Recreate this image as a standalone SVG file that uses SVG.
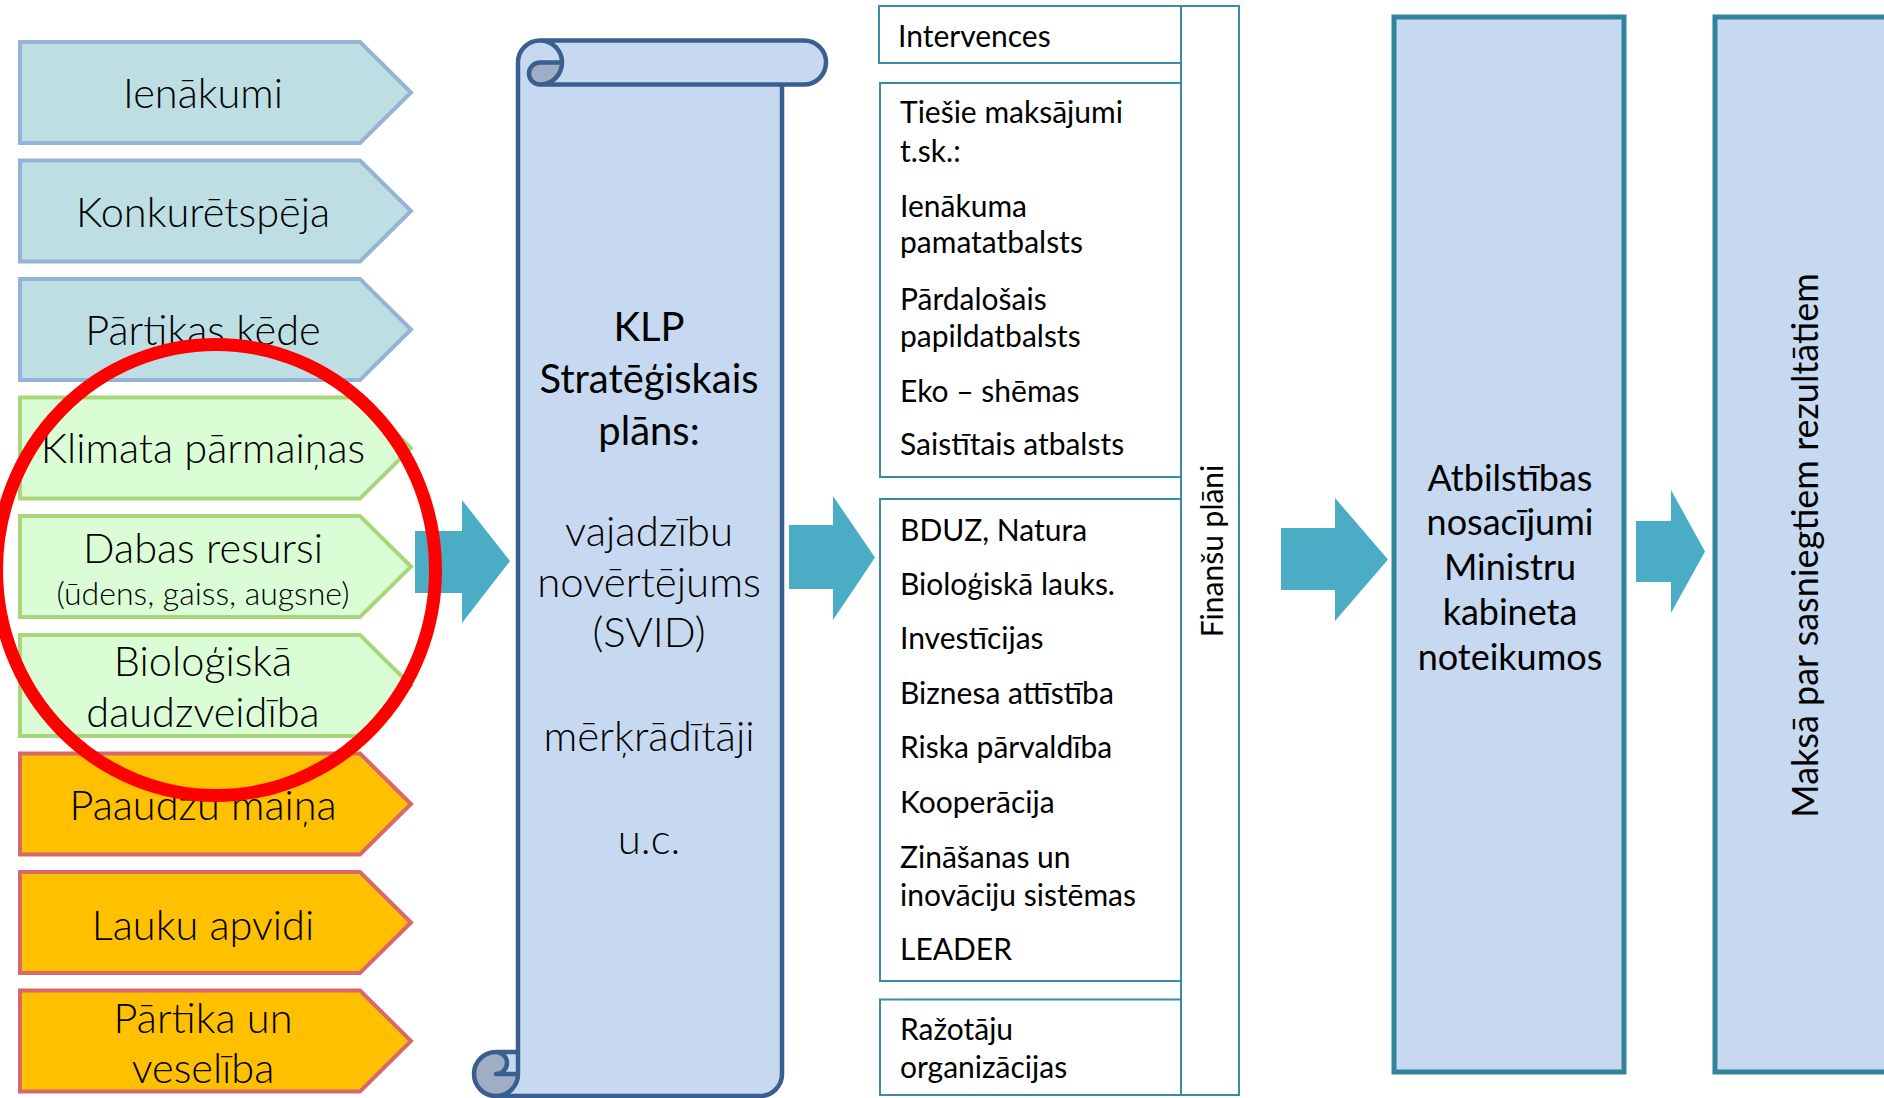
<svg xmlns="http://www.w3.org/2000/svg" width="1884" height="1098" viewBox="0 0 1884 1098">
<style>
text{font-family:Lato,"Open Sans","DejaVu Sans",sans-serif;fill:#000}
.chv{font-size:41.5px;text-anchor:middle;font-weight:300}
.sub{font-size:32px;text-anchor:middle;font-weight:300}
.cb{fill:#BDDFE4;stroke:#95B3D7;stroke-width:4}
.cg{fill:#DAFDD6;stroke:#AAD67B;stroke-width:4}
.co{fill:#FFC000;stroke:#D7696B;stroke-width:4}
.arr{fill:#4BACC6}
.scr{font-size:40px;text-anchor:middle}
.scr.lt{font-weight:300;font-size:42px}
.it{font-size:30px}
.lb{fill:#FFFFFF;stroke:#3A8BA5;stroke-width:2}
.rb{fill:#C6D9F1;stroke:#31849B;stroke-width:5}
.big{font-size:36px;text-anchor:middle}
</style>

<g id="chevron-ienakumi"><path class="cb" d="M20,42 L360,42 L411,92.5 L360,143 L20,143 Z"/><text class="chv" x="203" y="108">Ienākumi</text></g>
<g id="chevron-konkuretspeja"><path class="cb" d="M20,160.5 L360,160.5 L411,211 L360,261.5 L20,261.5 Z"/><text class="chv" x="203" y="227">Konkurētspēja</text></g>
<g id="chevron-partikas-kede"><path class="cb" d="M20,279 L360,279 L411,329.5 L360,380 L20,380 Z"/><text class="chv" x="203" y="345">Pārtikas ķēde</text></g>
<g id="chevron-klimata"><path class="cg" d="M20,397.5 L360,397.5 L411,448 L360,498.5 L20,498.5 Z"/><text class="chv" x="203" y="463">Klimata pārmaiņas</text></g>
<g id="chevron-dabas"><path class="cg" d="M20,516 L360,516 L411,566.5 L360,617 L20,617 Z"/><text class="chv" x="203" y="563">Dabas resursi</text><text class="sub" x="203" y="605">(ūdens, gaiss, augsne)</text></g>
<g id="chevron-bio"><path class="cg" d="M20,635 L360,635 L411,685.5 L360,736 L20,736 Z"/><text class="chv" x="203" y="676">Bioloģiskā</text><text class="chv" x="203" y="727">daudzveidība</text></g>
<g id="chevron-paaudzu"><path class="co" d="M20,753.5 L360,753.5 L411,804 L360,854.5 L20,854.5 Z"/><text class="chv" x="203" y="820">Paaudžu maiņa</text></g>
<g id="chevron-lauku"><path class="co" d="M20,872 L360,872 L411,922.5 L360,973 L20,973 Z"/><text class="chv" x="203" y="940">Lauku apvidi</text></g>
<g id="chevron-partika"><path class="co" d="M20,990.5 L360,990.5 L411,1041 L360,1091.5 L20,1091.5 Z"/><text class="chv" x="203" y="1033">Pārtika un</text><text class="chv" x="203" y="1083">veselība</text></g>

<g id="connectors">
<path class="arr" d="M415,531 L462,531 L462,500 L510,561 L462,623 L462,593 L415,593 Z"/>
<path class="arr" d="M789,525 L833,525 L833,496 L875,557.5 L833,620 L833,589 L789,589 Z"/>
<path class="arr" d="M1281,528 L1335,528 L1335,498 L1388,559.5 L1335,621 L1335,590 L1281,590 Z"/>
<path class="arr" d="M1636,521 L1671,521 L1671,490 L1705,551.5 L1671,613 L1671,582 L1636,582 Z"/>
</g>

<g id="scroll-klp">
<path fill="#C6D9F1" d="M496,1096 A22,22 0 0 0 518,1074 L496,1074 A11,11 0 0 1 496,1052 L518,1052 L518,62.5 A22,22 0 0 1 540,40.5 L804,40.5 A22,22 0 0 1 804,84.5 L782,84.5 L782,1074 A22,22 0 0 1 760,1096 Z M562,62.5 A22,22 0 0 1 540,84.5 A11,11 0 0 1 540,62.5 Z"/>
<path fill="#A0AEC5" d="M562,62.5 A22,22 0 0 1 540,84.5 A11,11 0 0 1 540,62.5 Z M518,1074 A22,22 0 1 1 496,1052 A11,11 0 0 1 496,1074 Z"/>
<path fill="none" stroke="#3A5F8E" stroke-width="4.5" stroke-linejoin="round" d="M518,1052 L518,62.5 A22,22 0 0 1 540,40.5 L804,40.5 A22,22 0 0 1 804,84.5 L782,84.5 L782,1074 A22,22 0 0 1 760,1096 L496,1096 A22,22 0 0 1 496,1052 Z M540,40.5 A22,22 0 0 1 540,84.5 A11,11 0 0 1 540,62.5 L562,62.5 M782,84.5 L540,84.5 M496,1052 A11,11 0 0 1 496,1074 L518,1074 M496,1096 A22,22 0 0 0 518,1074 L518,1052"/>
<text class="scr" x="649" y="341">KLP</text>
<text class="scr" x="649" y="393">Stratēģiskais</text>
<text class="scr" x="649" y="445">plāns:</text>
<text class="scr lt" x="649" y="546">vajadzību</text>
<text class="scr lt" x="649" y="597">novērtējums</text>
<text class="scr lt" x="649" y="647">(SVID)</text>
<text class="scr lt" x="649" y="751">mērķrādītāji</text>
<text class="scr lt" x="649" y="854">u.c.</text>
</g>

<g id="finansu-plani">
<rect class="lb" x="1181" y="6" width="58" height="1089"/>
<text class="it" x="1223" y="551" text-anchor="middle" transform="rotate(-90 1223 551)">Finanšu plāni</text>
</g>
<g id="intervences">
<rect class="lb" x="879" y="6" width="302" height="57"/>
<text class="it" x="898" y="47">Intervences</text>
</g>
<g id="tiesie-maksajumi">
<rect class="lb" x="880" y="83" width="301" height="394"/>
<text class="it" x="900" y="123">Tiešie maksājumi</text>
<text class="it" x="900" y="162">t.sk.:</text>
<text class="it" x="900" y="217">Ienākuma</text>
<text class="it" x="900" y="253">pamatatbalsts</text>
<text class="it" x="900" y="310">Pārdalošais</text>
<text class="it" x="900" y="347">papildatbalsts</text>
<text class="it" x="900" y="402">Eko – shēmas</text>
<text class="it" x="900" y="455">Saistītais atbalsts</text>
</g>
<g id="lauku-attistiba">
<rect class="lb" x="880" y="499" width="301" height="482"/>
<text class="it" x="900" y="541">BDUZ, Natura</text>
<text class="it" x="900" y="595">Bioloģiskā lauks.</text>
<text class="it" x="900" y="649">Investīcijas</text>
<text class="it" x="900" y="704">Biznesa attīstība</text>
<text class="it" x="900" y="758">Riska pārvaldība</text>
<text class="it" x="900" y="813">Kooperācija</text>
<text class="it" x="900" y="868">Zināšanas un</text>
<text class="it" x="900" y="906">inovāciju sistēmas</text>
<text class="it" x="900" y="960">LEADER</text>
</g>
<g id="razotaju-organizacijas">
<rect class="lb" x="880" y="999.5" width="301" height="95.5"/>
<text class="it" x="900" y="1040">Ražotāju</text>
<text class="it" x="900" y="1078">organizācijas</text>
</g>

<g id="atbilstibas">
<rect class="rb" x="1394" y="17" width="230" height="1055"/>
<text class="big" x="1510" y="491">Atbilstības</text>
<text class="big" x="1510" y="535">nosacījumi</text>
<text class="big" x="1510" y="580">Ministru</text>
<text class="big" x="1510" y="625">kabineta</text>
<text class="big" x="1510" y="670">noteikumos</text>
</g>
<g id="maksa">
<rect class="rb" x="1715" y="17" width="300" height="1055"/>
<text class="big" x="1818" y="545.5" transform="rotate(-90 1818 545.5)">Maksā par sasniegtiem rezultātiem</text>
</g>

<g id="highlight-circle">
<ellipse cx="216" cy="570" rx="219.5" ry="225.5" fill="none" stroke="#FF0000" stroke-width="13"/>
</g>
</svg>
